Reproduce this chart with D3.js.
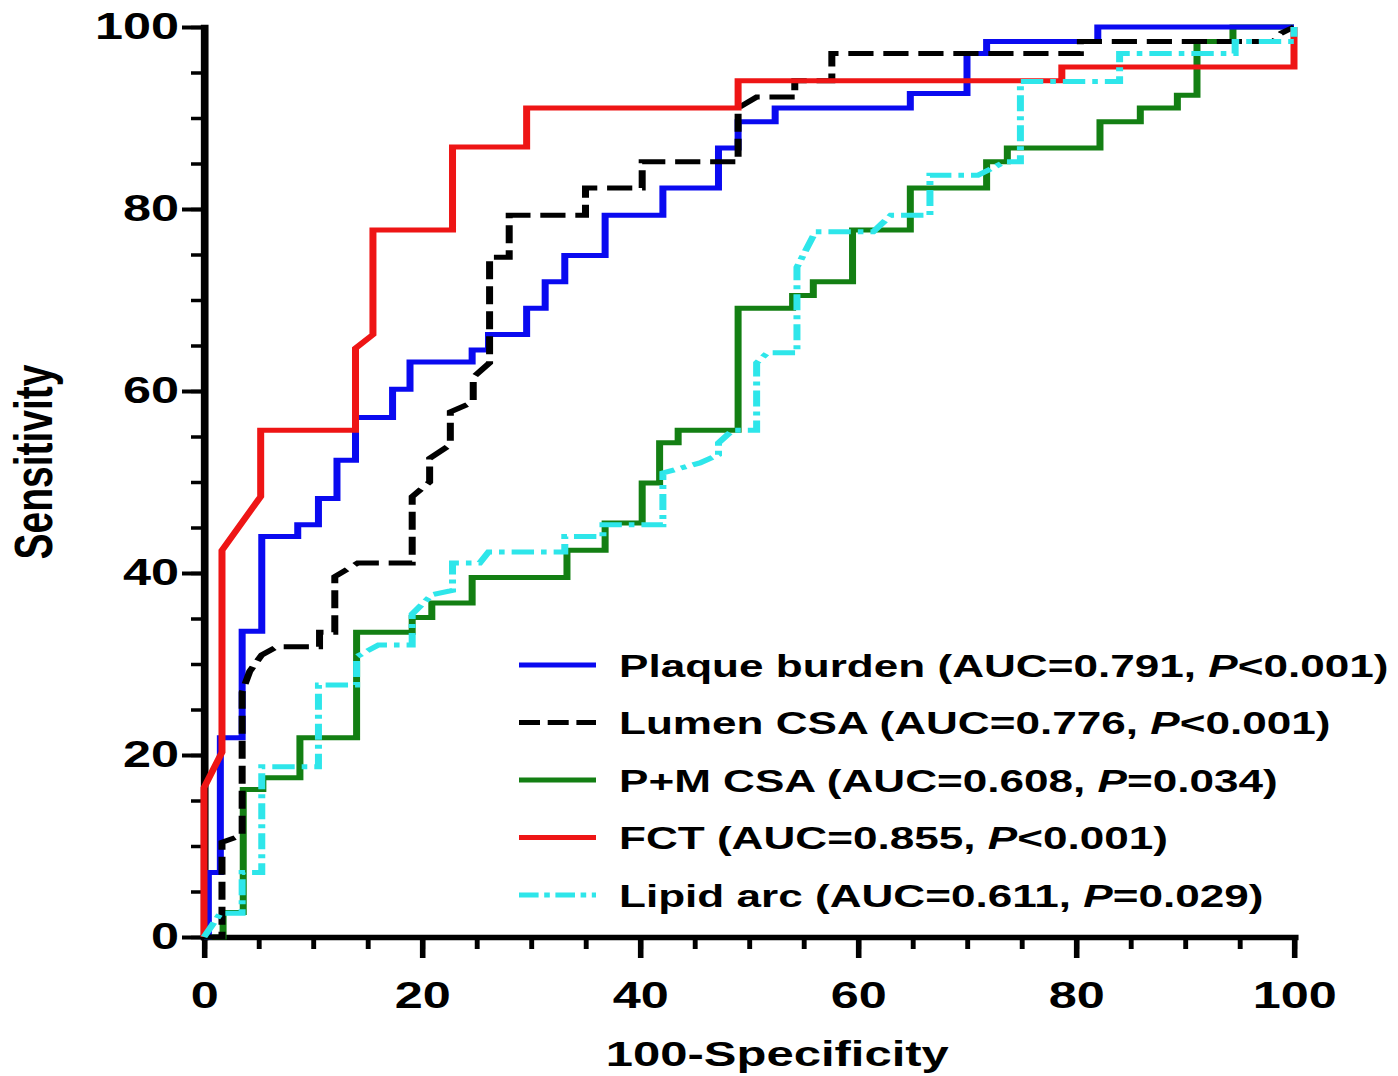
<!DOCTYPE html>
<html>
<head>
<meta charset="utf-8">
<script src="https://cdn.jsdelivr.net/npm/d3@7"></script>
<style>
  body { margin: 0; background: #fff; }
  text { font-family: "Liberation Sans", Arial, sans-serif; font-weight: bold; fill: #000; }
</style>
</head>
<body>
<div id="chart"></div>
<script>
// ROC curves (x = 100-Specificity, y = Sensitivity)
const plaqueX = [0, 0.4, 0.4, 1.5, 1.5, 3.5, 3.5, 5.3, 5.3, 8.6, 8.6, 10.5, 10.5, 12.2, 12.2, 13.9, 13.9, 17.3, 17.3, 18.9, 18.9, 24.6, 24.6, 26.1, 26.1, 29.6, 29.6, 31.3, 31.3, 33.1, 33.1, 36.8, 36.8, 42.1, 42.1, 47.2, 47.2, 49.0, 49.0, 52.4, 52.4, 64.8, 64.8, 70.0, 70.0, 71.8, 71.8, 82.0, 82.0, 100];
const plaqueY = [0, 0, 7.1, 7.1, 21.9, 21.9, 33.6, 33.6, 44.0, 44.0, 45.3, 45.3, 48.2, 48.2, 52.4, 52.4, 57.1, 57.1, 60.2, 60.2, 63.2, 63.2, 64.5, 64.5, 66.2, 66.2, 69.1, 69.1, 72.0, 72.0, 74.9, 74.9, 79.3, 79.3, 82.3, 82.3, 86.7, 86.7, 89.6, 89.6, 91.1, 91.1, 92.7, 92.7, 97.1, 97.1, 98.4, 98.4, 100, 100];

const lumenX = [0, 1.65, 1.65, 3.5, 3.5, 4.2, 5.3, 6.7, 10.6, 10.6, 12.0, 12.0, 14.1, 19.1, 19.1, 20.7, 20.7, 22.6, 22.6, 24.7, 24.7, 26.2, 26.2, 28.0, 28.0, 35.0, 35.0, 40.2, 40.2, 49.0, 49.0, 50.7, 54.2, 54.2, 57.6, 57.6, 80.4, 80.4, 98.1, 98.8, 100];
const lumenY = [0, 0, 10.4, 11.2, 26.9, 29.2, 31.0, 31.9, 31.9, 33.5, 33.5, 39.6, 41.1, 41.1, 48.4, 50.0, 52.6, 54.1, 57.7, 58.8, 61.5, 63.1, 74.7, 74.7, 79.3, 79.3, 82.3, 82.3, 85.2, 85.2, 91.1, 92.3, 92.3, 94.1, 94.1, 97.1, 97.1, 98.4, 98.4, 99.3, 100];

const pmX = [0, 1.75, 1.75, 3.6, 3.6, 5.4, 5.4, 8.8, 8.8, 14.0, 14.0, 19.1, 19.1, 20.9, 20.9, 24.6, 24.6, 33.3, 33.3, 36.8, 36.8, 40.2, 40.2, 41.8, 41.8, 43.5, 43.5, 49.0, 49.0, 54.0, 54.0, 55.9, 55.9, 59.5, 59.5, 64.8, 64.8, 71.8, 71.8, 73.7, 73.7, 82.2, 82.2, 85.9, 85.9, 89.3, 89.3, 91.1, 91.1, 94.4, 94.4, 100];
const pmY = [0, 0, 2.7, 2.7, 16.2, 16.2, 17.5, 17.5, 21.9, 21.9, 33.5, 33.5, 35.1, 35.1, 36.7, 36.7, 39.5, 39.5, 42.5, 42.5, 45.5, 45.5, 49.9, 49.9, 54.3, 54.3, 55.7, 55.7, 69.1, 69.1, 70.5, 70.5, 72.0, 72.0, 77.7, 77.7, 82.3, 82.3, 85.2, 85.2, 86.7, 86.7, 89.6, 89.6, 91.1, 91.1, 92.5, 92.5, 98.4, 98.4, 100, 100];

const fctX = [0, 0, 1.65, 1.65, 5.2, 5.2, 13.9, 13.9, 15.5, 15.5, 22.8, 22.8, 29.6, 29.6, 49.0, 49.0, 78.7, 78.7, 100, 100];
const fctY = [0, 16.4, 20.3, 42.5, 48.4, 55.7, 55.7, 64.7, 66.2, 77.7, 77.7, 86.8, 86.8, 91.1, 91.1, 94.1, 94.1, 95.6, 95.6, 100];

const lipidX = [0, 1.5, 3.5, 3.5, 5.3, 5.3, 10.5, 10.5, 14.0, 14.0, 16.0, 19.1, 19.1, 20.9, 22.8, 22.8, 25.3, 26.1, 33.1, 33.1, 36.6, 36.6, 42.1, 42.1, 45.5, 47.2, 47.2, 48.5, 50.7, 50.7, 51.7, 54.4, 54.4, 56.1, 61.4, 63.0, 66.6, 66.6, 71.0, 73.5, 74.9, 74.9, 84.0, 84.0, 94.6, 94.6, 100, 100];
const lipidY = [0, 2.6, 2.6, 7.1, 7.1, 18.7, 18.7, 27.7, 27.7, 30.8, 32.1, 32.1, 35.5, 37.6, 38.1, 41.1, 41.1, 42.3, 42.3, 44.0, 44.0, 45.3, 45.3, 51.0, 52.1, 53.0, 54.3, 55.7, 55.7, 63.1, 64.2, 64.2, 73.6, 77.5, 77.5, 79.3, 79.3, 83.7, 83.7, 85.2, 85.2, 94.0, 94.0, 97.1, 97.1, 98.4, 98.4, 100];

const seriesNames = ["Plaque burden", "Lumen CSA", "P+M CSA", "FCT", "Lipid arc"];
const seriesAUC = ["0.791", "0.776", "0.608", "0.855", "0.611"];
const seriesP = ["<0.001", "<0.001", "=0.034", "<0.001", "=0.029"];
const xTicks = [0, 20, 40, 60, 80, 100];
const yTicks = [0, 20, 40, 60, 80, 100];

const colors = ["#0a0af0", "#000000", "#137f13", "#ee1515", "#2ee6ea"];
const dashes = [null, "18,7", null, null, "16,5,4,5"];
const legendDashes = [null, "15,5.5", null, null, "14,4,4,4"];
const xs = [plaqueX, lumenX, pmX, fctX, lipidX];
const ys = [plaqueY, lumenY, pmY, fctY, lipidY];
const drawOrder = [2, 0, 1, 3, 4];

const width = 1398, height = 1076;
const sx = 1.4; // the original figure is stretched sideways

const svg = d3.select("#chart").append("svg")
  .attr("width", width).attr("height", height);
const g = svg.append("g").attr("transform", `scale(${sx},1)`);

const x = d3.scaleLinear().domain([0, 100]).range([204 / sx, 1294 / sx]);
const y = d3.scaleLinear().domain([0, 100]).range([937, 27]);

// minor ticks
g.append("g").attr("class", "minor")
  .attr("transform", `translate(0,${y(0)})`)
  .call(d3.axisBottom(x).tickValues(d3.range(0, 101, 5)).tickSize(12).tickFormat(""));
g.append("g").attr("class", "minor")
  .attr("transform", `translate(${x(0)},0)`)
  .call(d3.axisLeft(y).tickValues(d3.range(0, 101, 5)).tickSize(13 / sx).tickFormat(""));
g.selectAll(".minor .domain").remove();
g.selectAll(".minor line").attr("stroke-width", 3.5);

// major axes
const xAxis = g.append("g").attr("class", "xaxis")
  .attr("transform", `translate(0,${y(0)})`)
  .call(d3.axisBottom(x).tickValues(xTicks).tickSize(21).tickSizeOuter(0).tickPadding(24));
const yAxis = g.append("g").attr("class", "yaxis")
  .attr("transform", `translate(${x(0)},0)`)
  .call(d3.axisLeft(y).tickValues(yTicks).tickSize(22 / sx).tickSizeOuter(0).tickPadding(3 / sx));

[xAxis, yAxis].forEach(a => {
  a.select(".domain").attr("stroke-width", 5.5).attr("stroke-linecap", "square");
  a.selectAll(".tick line").attr("stroke-width", 4);
  a.selectAll("text").attr("font-size", 36).attr("font-family", "Liberation Sans, Arial, sans-serif")
    .attr("font-weight", "bold").attr("fill", "#000");
});
g.selectAll(".minor line, .xaxis line, .yaxis line").attr("stroke", "#000");

// axis titles
g.append("text")
  .attr("x", x(52.6)).attr("y", 1066)
  .attr("text-anchor", "middle").attr("font-size", 35)
  .text("100-Specificity");
g.append("text")
  .attr("transform", `translate(${52 / sx},462) rotate(-90)`)
  .attr("text-anchor", "middle").attr("font-size", 39)
  .text("Sensitivity");

// curves
const line = d3.line().x(d => x(d[0])).y(d => y(d[1]));
drawOrder.forEach(i => {
  const pts = xs[i].map((v, k) => [v, ys[i][k]]);
  g.append("path")
    .attr("d", line(pts))
    .attr("fill", "none")
    .attr("stroke", colors[i])
    .attr("stroke-width", 5)
    .attr("stroke-dasharray", dashes[i])
    .attr("stroke-linejoin", "miter");
});

// legend
const legendY = d3.scaleLinear().domain([0, 4]).range([665, 895]);
seriesNames.forEach((name, i) => {
  const ly = legendY(i);
  g.append("line")
    .attr("x1", 519 / sx).attr("x2", 596 / sx)
    .attr("y1", ly).attr("y2", ly)
    .attr("stroke", colors[i]).attr("stroke-width", 5)
    .attr("stroke-dasharray", legendDashes[i]);
  const t = g.append("text")
    .attr("x", 619 / sx).attr("y", ly + 12)
    .attr("font-size", 31.5);
  t.append("tspan").text(`${name} (AUC=${seriesAUC[i]}, `);
  t.append("tspan").attr("font-style", "italic").text("P");
  t.append("tspan").text(`${seriesP[i]})`);
});
</script>
</body>
</html>
